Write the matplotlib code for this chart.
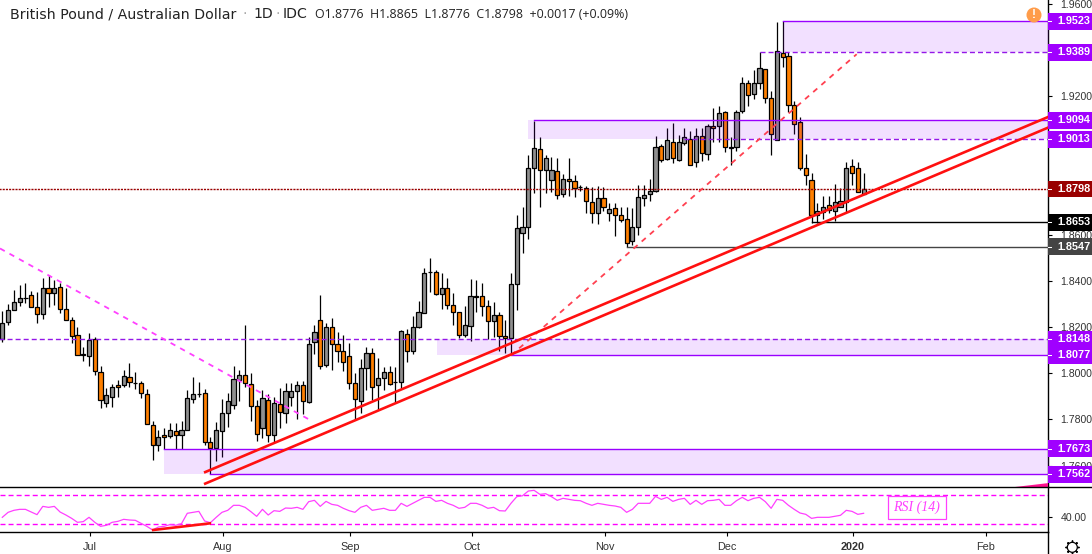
# GBP/AUD daily candles with RSI pane
import matplotlib
matplotlib.use("Agg")
import numpy as np
import matplotlib.pyplot as plt
from matplotlib.patches import Rectangle, Circle
from matplotlib.transforms import blended_transform_factory

opens = [1.8150, 1.8220, 1.8272, 1.8307, 1.8324, 1.8337, 1.8285, 1.8255, 1.8367, 1.8346,
         1.8372, 1.8277, 1.8229, 1.8164, 1.8082, 1.8073, 1.8147, 1.8004, 1.7870, 1.7899,
         1.7948, 1.7948, 1.7982, 1.7957, 1.7956, 1.7909, 1.7774, 1.7688, 1.7731, 1.7727,
         1.7748, 1.7731, 1.7753, 1.7887, 1.7910, 1.7913, 1.7701, 1.7675, 1.7748, 1.7826,
         1.7861, 1.7969, 1.7991, 1.7952, 1.7857, 1.7761, 1.7883, 1.7731, 1.7865, 1.7826,
         1.7895, 1.7921, 1.7947, 1.7874, 1.8134, 1.8229, 1.8034, 1.8198, 1.8125, 1.8095,
         1.8073, 1.7956, 1.7878, 1.8021, 1.8086, 1.7947, 1.7978, 1.8004, 1.7961, 1.7960,
         1.8168, 1.8095, 1.8198, 1.8259, 1.8438, 1.8437, 1.8341, 1.8367, 1.8294, 1.8263,
         1.8164, 1.8203, 1.8333, 1.8333, 1.8289, 1.8224, 1.8250, 1.8160, 1.8151, 1.8385,
         1.8605, 1.8631, 1.8887, 1.8969, 1.8878, 1.8835, 1.8874, 1.8774, 1.8839, 1.8831,
         1.8806, 1.8800, 1.8740, 1.8692, 1.8757, 1.8692, 1.8714, 1.8683, 1.8666, 1.8571,
         1.8631, 1.8757, 1.8774, 1.8787, 1.8982, 1.8926, 1.8999, 1.8922, 1.8995, 1.9012,
         1.8913, 1.9025, 1.8947, 1.9069, 1.9069, 1.9129, 1.8978, 1.8978, 1.9134, 1.9255,
         1.9207, 1.9255, 1.9315, 1.9190, 1.9008, 1.9385, 1.9372, 1.9160, 1.9086, 1.8887,
         1.8835, 1.8683, 1.8696, 1.8727, 1.8701, 1.8721, 1.8740, 1.8896, 1.8887, 1.8776]
highs = [1.8269, 1.8300, 1.8359, 1.8380, 1.8389, 1.8354, 1.8352, 1.8411, 1.8424, 1.8404,
         1.8389, 1.8367, 1.8242, 1.8199, 1.8115, 1.8173, 1.8158, 1.8031, 1.7935, 1.7952,
         1.7971, 1.8014, 1.8043, 1.8004, 1.7965, 1.7930, 1.7792, 1.7753, 1.7761, 1.7783,
         1.7783, 1.7792, 1.7926, 1.7982, 1.7961, 1.7933, 1.7722, 1.7787, 1.7887, 1.7913,
         1.8030, 1.8012, 1.8207, 1.7999, 1.7883, 1.7927, 1.7908, 1.7898, 1.7934, 1.7956,
         1.7956, 1.7966, 1.7965, 1.8155, 1.8207, 1.8338, 1.8216, 1.8238, 1.8177, 1.8164,
         1.8129, 1.7999, 1.8060, 1.8112, 1.8109, 1.8064, 1.8028, 1.8030, 1.8025, 1.8186,
         1.8193, 1.8248, 1.8312, 1.8454, 1.8497, 1.8447, 1.8432, 1.8412, 1.8346, 1.8263,
         1.8291, 1.8408, 1.8403, 1.8389, 1.8317, 1.8308, 1.8263, 1.8230, 1.8435, 1.8685,
         1.8718, 1.8945, 1.9093, 1.9021, 1.8945, 1.8934, 1.8930, 1.8862, 1.8930, 1.8856,
         1.8816, 1.8810, 1.8805, 1.8809, 1.8805, 1.8735, 1.8735, 1.8718, 1.8718, 1.8714,
         1.8815, 1.8815, 1.8839, 1.9025, 1.8992, 1.9061, 1.9082, 1.9031, 1.9060, 1.9047,
         1.9061, 1.9061, 1.9079, 1.9147, 1.9157, 1.9135, 1.9024, 1.9139, 1.9281, 1.9269,
         1.9313, 1.9392, 1.9315, 1.9220, 1.9519, 1.9526, 1.9389, 1.9177, 1.9108, 1.8947,
         1.8865, 1.8735, 1.8767, 1.8767, 1.8819, 1.8800, 1.8913, 1.8926, 1.8913, 1.8865]
lows = [1.8137, 1.8210, 1.8272, 1.8291, 1.8305, 1.8285, 1.8219, 1.8236, 1.8288, 1.8295,
        1.8262, 1.8229, 1.8132, 1.8077, 1.8054, 1.8033, 1.7994, 1.7851, 1.7855, 1.7855,
        1.7899, 1.7939, 1.7942, 1.7930, 1.7891, 1.7779, 1.7626, 1.7665, 1.7670, 1.7718,
        1.7670, 1.7670, 1.7753, 1.7870, 1.7899, 1.7689, 1.7562, 1.7621, 1.7639, 1.7769,
        1.7845, 1.7881, 1.7939, 1.7795, 1.7708, 1.7718, 1.7704, 1.7704, 1.7761, 1.7786,
        1.7859, 1.7800, 1.7823, 1.7870, 1.8083, 1.8017, 1.8025, 1.8014, 1.8047, 1.8011,
        1.7930, 1.7797, 1.7829, 1.7927, 1.7884, 1.7841, 1.7927, 1.7947, 1.7874, 1.7936,
        1.8050, 1.8083, 1.8194, 1.8259, 1.8351, 1.8338, 1.8276, 1.8276, 1.8207, 1.8151,
        1.8155, 1.8141, 1.8263, 1.8248, 1.8147, 1.8155, 1.8098, 1.8089, 1.8077, 1.8274,
        1.8522, 1.8580, 1.8782, 1.8721, 1.8779, 1.8786, 1.8753, 1.8764, 1.8767, 1.8764,
        1.8790, 1.8695, 1.8649, 1.8646, 1.8704, 1.8660, 1.8595, 1.8653, 1.8547, 1.8556,
        1.8597, 1.8724, 1.8747, 1.8784, 1.8916, 1.8923, 1.8911, 1.8920, 1.8988, 1.8900,
        1.8894, 1.8917, 1.8923, 1.9002, 1.9002, 1.8956, 1.8900, 1.8963, 1.9128, 1.9157,
        1.9188, 1.9229, 1.9171, 1.8946, 1.9008, 1.9327, 1.9131, 1.9036, 1.8880, 1.8815,
        1.8652, 1.8652, 1.8669, 1.8692, 1.8660, 1.8718, 1.8696, 1.8815, 1.8783, 1.8776]
closes = [1.8219, 1.8272, 1.8307, 1.8324, 1.8325, 1.8285, 1.8255, 1.8367, 1.8346, 1.8367,
          1.8277, 1.8229, 1.8160, 1.8077, 1.8077, 1.8142, 1.8008, 1.7883, 1.7904, 1.7939,
          1.7942, 1.7987, 1.7961, 1.7956, 1.7913, 1.7779, 1.7688, 1.7722, 1.7722, 1.7753,
          1.7731, 1.7753, 1.7891, 1.7909, 1.7908, 1.7701, 1.7675, 1.7753, 1.7826, 1.7878,
          1.7974, 1.7991, 1.7956, 1.7857, 1.7735, 1.7891, 1.7731, 1.7870, 1.7831, 1.7921,
          1.7921, 1.7947, 1.7878, 1.8125, 1.8177, 1.8030, 1.8198, 1.8125, 1.8095, 1.8047,
          1.7956, 1.7887, 1.8021, 1.8086, 1.7939, 1.7978, 1.8004, 1.7952, 1.7960, 1.8181,
          1.8095, 1.8198, 1.8263, 1.8432, 1.8437, 1.8341, 1.8367, 1.8294, 1.8263, 1.8164,
          1.8207, 1.8333, 1.8328, 1.8289, 1.8224, 1.8250, 1.8160, 1.8151, 1.8385, 1.8627,
          1.8631, 1.8887, 1.8973, 1.8878, 1.8930, 1.8878, 1.8770, 1.8839, 1.8831, 1.8800,
          1.8805, 1.8744, 1.8692, 1.8757, 1.8718, 1.8709, 1.8683, 1.8662, 1.8562, 1.8631,
          1.8761, 1.8770, 1.8787, 1.8978, 1.8922, 1.9008, 1.8930, 1.8999, 1.9021, 1.8900,
          1.9025, 1.8952, 1.9069, 1.9060, 1.9125, 1.8978, 1.8973, 1.9129, 1.9255, 1.9203,
          1.9255, 1.9320, 1.9190, 1.9037, 1.9393, 1.9367, 1.9160, 1.9077, 1.8887, 1.8857,
          1.8683, 1.8701, 1.8718, 1.8705, 1.8740, 1.8744, 1.8887, 1.8865, 1.8783, 1.8798]

rsi = [39.4, 46.1, 48.8, 50.1, 50.1, 46.5, 43.0, 54.1, 52.8, 54.1,
       46.5, 42.5, 38.0, 32.7, 33.6, 39.4, 32.7, 27.3, 28.7, 32.7,
       34.0, 36.7, 35.8, 35.4, 31.3, 27.3, 22.4, 26.4, 27.3, 29.6,
       28.7, 30.9, 44.8, 46.1, 47.4, 34.5, 32.2, 39.4, 46.1, 48.8,
       55.5, 55.5, 52.8, 47.0, 40.7, 50.1, 42.5, 48.3, 47.4, 51.9,
       51.5, 52.8, 50.1, 60.4, 62.2, 54.1, 60.8, 56.8, 55.5, 51.5,
       48.3, 46.1, 52.8, 55.5, 48.8, 50.1, 51.5, 48.8, 48.8, 58.2,
       54.1, 58.2, 62.2, 66.2, 66.2, 60.8, 62.2, 58.2, 55.5, 51.5,
       52.8, 58.2, 58.2, 55.5, 51.5, 52.8, 48.3, 47.9, 58.2, 67.1,
       68.4, 74.7, 75.6, 70.2, 71.1, 67.1, 62.2, 64.9, 63.5, 62.2,
       61.7, 58.2, 55.5, 58.2, 56.8, 55.5, 54.6, 52.8, 46.1, 50.1,
       58.2, 58.2, 58.2, 67.5, 63.5, 66.2, 60.8, 63.5, 64.9, 56.8,
       62.2, 56.8, 61.7, 62.2, 63.5, 55.5, 55.5, 61.7, 66.2, 61.7,
       64.9, 66.2, 60.4, 51.5, 63.5, 62.2, 55.5, 50.1, 45.2, 43.4,
       38.0, 39.4, 39.4, 39.4, 40.7, 42.1, 48.8, 47.4, 43.4, 44.8]

# zones: low, high, first candle
zone_low = [1.9389, 1.9013, 1.8077, 1.7562]
zone_high = [1.9523, 1.9094, 1.8148, 1.7673]
zone_start = [135, 91, 75.2, 28]

# horizontal levels
level_vals = [1.9523, 1.9389, 1.9094, 1.9013, 1.8798, 1.8653, 1.8547, 1.8148, 1.8077, 1.7673, 1.7562]
level_start = [135, 131, 92, 118, -1, 140, 108, -1, 88, 28, 36]
level_kind = ['solid', 'dash', 'solid', 'dash', 'dot', 'black', 'grey', 'dash', 'solid', 'solid', 'solid']
level_tag = ['#a000ff', '#a000ff', '#a000ff', '#a000ff', '#990000', '#000000', '#444444',
             '#a000ff', '#a000ff', '#a000ff', '#a000ff']

# trend lines (candle number, price)
upper_x, upper_y = [35.1, 180.9], [1.7572, 1.9109]
lower_x, lower_y = [35.1, 180.9], [1.7522, 1.9063]
fib_x, fib_y = [88, 147.8], [1.8077, 1.9381]
down_x, down_y = [-0.4, 52.9], [1.8540, 1.7802]
rsi_trend_x, rsi_trend_y = [26.1, 35.9], [22.4, 31.3]

price_ticks = [1.76, 1.78, 1.80, 1.82, 1.84, 1.86, 1.92, 1.96]
month_pos = [15.2, 38.2, 60.2, 81.2, 104.2, 125.3, 147.1, 170.1]
month_lab = ['Jul', 'Aug', 'Sep', 'Oct', 'Nov', 'Dec', '2020', 'Feb']

W, H = 1092, 554
AX_R = 1048
MAIN_B = 487.3
RSI_B = 532
PURPLE = '#9900ff'
TICK_GREY = '#333333'
TICK_FONT = 'Liberation Sans'
DASH = (0, (3.6, 2.2))

fig = plt.figure(figsize=(W / 100, H / 100), dpi=100, facecolor='white')
ax = fig.add_axes([0, 1 - MAIN_B / H, AX_R / W, MAIN_B / H])
ax2 = fig.add_axes([0, 1 - RSI_B / H, AX_R / W, (RSI_B - MAIN_B) / H], sharex=ax)

x = np.arange(len(closes))
opens, highs, lows, closes = map(np.array, (opens, highs, lows, closes))
up = closes >= opens

# candles
wicks = ax.vlines(x, lows, highs, color='black', lw=0.9, zorder=3)
wicks.set_snap(True)
ax.bar(x, np.abs(closes - opens), bottom=np.minimum(opens, closes), width=0.72,
       color=np.where(up, '#8f8f8f', '#ff8000'), edgecolor='black', linewidth=0.9, zorder=3.1)

# zones and levels
for lo, hi, st in zip(zone_low, zone_high, zone_start):
    ax.fill_between([st, 181], lo, hi, color=PURPLE, alpha=0.12, lw=0, zorder=4)

for val, st, kind in zip(level_vals, level_start, level_kind):
    if kind == 'solid':
        ax.plot([st, 181], [val, val], color=PURPLE, lw=1.0, zorder=5)
    elif kind == 'dash':
        ax.plot([st, 181], [val, val], color='#9417e8', lw=1.0, ls=DASH, zorder=5)
    elif kind == 'dot':
        ax.plot([st, 181], [val, val], color='#990000', lw=1.0, ls=(0, (1.5, 0.8)), zorder=5)
    elif kind == 'black':
        ax.plot([st, 181], [val, val], color='black', lw=1.0, zorder=5)
    else:
        ax.plot([st, 181], [val, val], color='#444444', lw=1.0, zorder=5)

ax.plot(fib_x, fib_y, color='#ff4050', lw=1.3, ls=(0, (3, 3)), zorder=5)
ax.plot(down_x, down_y, color='#ff40ff', lw=1.3, ls=(0, (3, 3)), zorder=5)
ax.plot(upper_x, upper_y, color='#ff1010', lw=1.9, zorder=6)
ax.plot(lower_x, lower_y, color='#ff1010', lw=1.9, zorder=6)
ax.fill([175.2, 181, 181], [1.7507, 1.7507, 1.7525], color='#ff1090', lw=0, zorder=6)

ax.set_xlim(-0.4, 180.9)
ax.set_ylim(1.92 - (MAIN_B - 96) / 2310, 1.92 + 96 / 2310)

# right price tags
trans = blended_transform_factory(ax.transAxes, ax.transData)
tag_w = (W - AX_R) / AX_R
tag_h = 16.7 / 2310
for val, col in zip(level_vals, level_tag):
    ax.add_patch(Rectangle((1.0, val - tag_h / 2), tag_w, tag_h, transform=trans, facecolor=col,
                           edgecolor='none', clip_on=False, zorder=7))
    ax.plot([1.0, 1.0 + 3 / AX_R], [val, val], color='white', lw=0.75, transform=trans,
            clip_on=False, zorder=8)
    ax.text(1.0 + 9 / AX_R, val, '%.4f' % val, transform=trans, color='white', ha='left', va='center',
            fontsize=7.8, fontweight='bold', family=TICK_FONT, clip_on=False, zorder=8)

ax.set_yticks(price_ticks)
ax.set_yticklabels(['%.4f' % v for v in price_ticks])
ax.yaxis.tick_right()
ax.tick_params(axis='y', length=3, width=0.8, pad=6, labelsize=7.6, labelcolor=TICK_GREY)
ax.tick_params(axis='x', bottom=False, labelbottom=False)
for s in ['left', 'top', 'bottom']:
    ax.spines[s].set_visible(False)
ax.spines['right'].set_linewidth(1.0)
for lab in ax.get_yticklabels():
    lab.set_family(TICK_FONT)

# RSI pane
ax2.plot(x, rsi, color='#ff40ff', lw=0.9, zorder=3)
ax2.axhline(70, color='#ff00ff', lw=1.0, ls=DASH)
ax2.axhline(30, color='#ff00ff', lw=1.0, ls=DASH)
ax2.plot(rsi_trend_x, rsi_trend_y, color='#ff1010', lw=1.9, zorder=4)
ax2.set_ylim(19.7, 79.7)
ax2.set_yticks([40])
ax2.set_yticklabels(['40.00'])
ax2.yaxis.tick_right()
ax2.tick_params(axis='y', length=3, width=0.8, pad=6, labelsize=7.6, labelcolor=TICK_GREY)
ax2.set_xticks(month_pos)
ax2.set_xticklabels(month_lab)
ax2.tick_params(axis='x', length=3, width=0.8, pad=4, labelsize=7.8, labelcolor=TICK_GREY)
for lab in ax2.get_yticklabels() + ax2.get_xticklabels():
    lab.set_family(TICK_FONT)
    if lab.get_text() == '2020':
        lab.set_fontweight('bold')
for s in ['left', 'top']:
    ax2.spines[s].set_visible(False)
ax2.spines['bottom'].set_linewidth(1.0)
ax2.spines['right'].set_linewidth(1.0)

# overlay in pixels for header, icons and the rest of the frame
ov = fig.add_axes([0, 0, 1, 1], facecolor='none')
ov.set_xlim(0, W)
ov.set_ylim(H, 0)
ov.axis('off')
ov.plot([AX_R, AX_R], [RSI_B, H], color='black', lw=1.0)
ov.plot([0, W], [MAIN_B, MAIN_B], color='black', lw=1.0)

ov.text(10, 14, 'British Pound / Australian Dollar', fontsize=10.2, color='#222222', va='center',
        family='DejaVu Sans')
ov.text(245, 14, '·', fontsize=10.2, color='#aaaaaa', va='center', ha='center', family='DejaVu Sans')
ov.text(253, 14, '1D', fontsize=10.2, color='#222222', va='center', family='DejaVu Sans')
ov.text(278, 14, '·', fontsize=10.2, color='#aaaaaa', va='center', ha='center', family='DejaVu Sans')
ov.text(283, 14, 'IDC', fontsize=10.2, color='#222222', va='center', family='DejaVu Sans')
ov.text(315, 14, 'O1.8776  H1.8865  L1.8776  C1.8798  +0.0017 (+0.09%)', fontsize=8.9, color='#222222',
        va='center', family='Open Sans')

ov.add_patch(Rectangle((888, 496), 58, 23, facecolor='white', edgecolor='#ff40ff', lw=0.9))
ov.text(917, 507.5, 'RSI (14)', color='#ff40ff', fontsize=10, style='italic', ha='center', va='center',
        family='Liberation Serif')

ov.add_patch(Circle((1034, 15), 7.5, facecolor='#ff9c4a', edgecolor='none'))
ov.text(1034, 15, '!', color='white', fontsize=8.5, fontweight='bold', ha='center', va='center',
        family='Liberation Sans')

# settings gear
ov.plot([1072.3], [547.3], marker=(8, 2, 0), ms=10, mew=1.0, color='black')
ov.add_patch(Circle((1072.3, 547.3), 5, facecolor='white', edgecolor='black', lw=0.9, zorder=4))

fig.savefig('out.png', dpi=100)
